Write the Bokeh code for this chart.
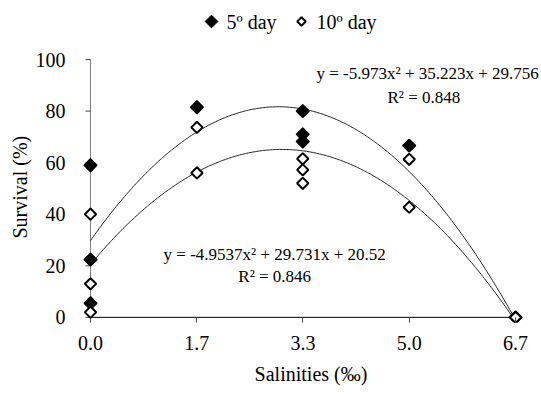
import numpy as np
from bokeh.plotting import figure
from bokeh.models import (Range1d, FixedTicker, Label, Title)
from bokeh.embed import file_html
from bokeh.resources import INLINE

# ---- data ----
day5_x = [0, 0, 0, 1.67, 3.33, 3.33, 3.33, 5.0, 6.67]
day5_y = [59, 22.4, 5.5, 81.5, 80, 71, 68.2, 66.6, 0]
day10_x = [0, 0, 0, 1.67, 1.67, 3.33, 3.33, 3.33, 5.0, 5.0, 6.67]
day10_y = [40, 13, 2, 73.7, 56, 61.5, 57.2, 52, 61.3, 42.7, 0]

fit5 = [-5.973, 35.223, 29.756]      # a, b, c of y = a x^2 + b x + c
fit10 = [-4.9537, 29.731, 20.52]
eq5 = "y = -5.973x² + 35.223x + 29.756"
r5 = "R² = 0.848"
eq10 = "y = -4.9537x² + 29.731x + 20.52"
r10 = "R² = 0.846"
series_names = ["5º day", "10º day"]

x_ticks = [0, 5/3, 10/3, 5, 20/3]
x_tick_labels = ["0.0", "1.7", "3.3", "5.0", "6.7"]
y_ticks = [0, 20, 40, 60, 80, 100]

FONT = "Liberation Serif"

W, H = 541, 394
BL, BB = 80, 72
X0, X1 = -0.157, 7.076
Y0, Y1 = -2, 122.9
x_axis_end = 6.76

p = figure(width=W, height=H, output_backend="svg", toolbar_location=None,
           x_range=Range1d(X0, X1), y_range=Range1d(Y0, Y1),
           min_border_left=BL, min_border_right=0, min_border_top=0,
           min_border_bottom=BB)
p.outline_line_color = None
p.xgrid.visible = False
p.ygrid.visible = False
p.background_fill_color = "white"
p.border_fill_color = "white"

px_per_x = (W - BL) / (X1 - X0)
px_per_y = (H - BB) / (Y1 - Y0)

# x axis: labels + ticks pointing up from the frame bottom to y = 0
p.xaxis.ticker = FixedTicker(ticks=x_ticks)
p.xaxis.major_label_overrides = {t: l for t, l in zip(x_ticks, x_tick_labels)}
p.xaxis.axis_line_color = None
p.xaxis.major_tick_in = 5
p.xaxis.major_tick_out = 0
p.xaxis.minor_tick_line_color = None
p.xaxis.major_tick_line_color = "#444444"
p.xaxis.major_label_standoff = 13

# y axis: labels only, line and ticks drawn at x = 0
p.yaxis.ticker = FixedTicker(ticks=y_ticks)
p.yaxis.axis_line_color = None
p.yaxis.major_tick_line_color = None
p.yaxis.major_tick_in = 0
p.yaxis.major_tick_out = 0
p.yaxis.minor_tick_line_color = None
p.yaxis.major_label_standoff = 15

for ax in (p.xaxis, p.yaxis):
    ax.major_label_text_font = FONT
    ax.major_label_text_font_size = "20px"
    ax.major_label_text_color = "black"

# axis titles
p.add_layout(Title(text="Salinities (‰)", align="center", text_font=FONT,
                   text_font_size="20px", text_font_style="normal",
                   text_color="black", standoff=17), "below")
p.add_layout(Title(text="Survival (%)", align="left", offset=84, text_font=FONT,
                   text_font_size="20px", text_font_style="normal",
                   text_color="black", standoff=4), "left")

# drawn axis lines and y ticks
tick_len = 5 / px_per_x
p.segment(x0=[0], y0=[Y0], x1=[0], y1=[y_ticks[-1]], line_color="#808080", line_width=1)
p.segment(x0=[-tick_len] * len(y_ticks), y0=y_ticks, x1=[0] * len(y_ticks), y1=y_ticks,
          line_color="#444444", line_width=1)
p.segment(x0=[0], y0=[0], x1=[x_axis_end], y1=[0], line_color="black", line_width=1)

# trend curves
xs = np.linspace(0, x_ticks[-1], 300)
y5 = fit5[0] * xs**2 + fit5[1] * xs + fit5[2]
y10 = fit10[0] * xs**2 + fit10[1] * xs + fit10[2]
p.line(xs, y5, line_color="#222222", line_width=1)
p.line(xs, y10, line_color="#222222", line_width=1)

# points
p.scatter(day5_x, day5_y, marker="square", angle=np.pi / 4, size=9,
          fill_color="black", line_color="black", line_width=1.5)
p.scatter(day10_x, day10_y, marker="square", angle=np.pi / 4, size=8,
          fill_color="white", line_color="black", line_width=2)

# equations
for txt, xx, yy in [(eq5, 5.29, 94.6), (r5, 5.23, 85.3),
                    (eq10, 2.89, 24.3), (r10, 2.89, 15.8)]:
    p.add_layout(Label(x=xx, y=yy, text=txt, text_font=FONT, text_font_size="17px",
                       text_align="center", text_baseline="middle",
                       text_color="black"))

# legend (top centre, keys + labels)
def sx(px):
    return X0 + (px - BL) / px_per_x

def sy(py):
    return Y1 - py / px_per_y

leg_y = sy(21)
p.scatter([sx(211)], [leg_y], marker="square", angle=np.pi / 4, size=9,
          fill_color="black", line_color="black", line_width=1)
p.scatter([sx(301)], [leg_y], marker="square", angle=np.pi / 4, size=6,
          fill_color="white", line_color="black", line_width=2)
p.add_layout(Label(x=sx(226), y=leg_y, text=series_names[0], text_font=FONT,
                   text_font_size="20px", text_baseline="middle", text_color="black"))
p.add_layout(Label(x=sx(316), y=leg_y, text=series_names[1], text_font=FONT,
                   text_font_size="20px", text_baseline="middle", text_color="black"))

open("out.html", "w").write(file_html(p, INLINE))
